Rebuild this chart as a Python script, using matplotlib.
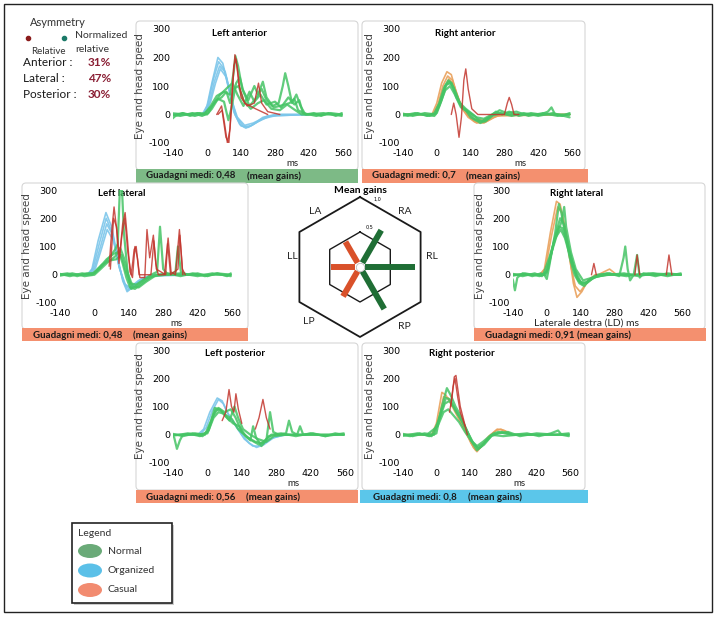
import matplotlib
matplotlib.use("Agg")
import matplotlib.pyplot as plt
from matplotlib.patches import Rectangle, FancyBboxPatch, Ellipse
import numpy as np

plt.rcParams["font.family"] = ["DejaVu Sans"]
plt.rcParams["axes.unicode_minus"] = False
TXT = ["Lato", "DejaVu Sans"]

# ---------------- data ----------------
x_ticks = [-140, 0, 140, 280, 420, 560]
y_ticks = [-100, 0, 100, 200, 300]

# traces as (ms, speed) keypoints
LA_blue = [
    [(-150, 0), (-20, 0), (0, 30), (20, 110), (45, 200), (65, 180), (90, 90), (110, 10), (135, -35), (160, -48), (190, -35), (230, -10), (280, 0), (420, 0)],
    [(-150, 0), (-15, 0), (5, 40), (25, 120), (48, 185), (70, 160), (95, 70), (115, 0), (140, -40), (170, -45), (210, -25), (260, -5), (420, 0)],
    [(-150, 0), (-10, 0), (10, 40), (30, 115), (52, 170), (75, 150), (100, 60), (120, -5), (150, -42), (180, -40), (230, -15), (300, 0), (420, 0)],
    [(-150, 0), (-10, 0), (15, 45), (35, 110), (55, 160), (80, 130), (105, 40), (125, -10), (155, -38), (190, -30), (250, -5), (420, 0)],
]
LA_red = [
    [(40, 0), (60, 30), (72, -30), (84, -100), (95, -50), (105, 90), (115, 210), (125, 160), (140, 60), (165, 30), (195, 40), (212, 110), (225, 40), (250, 10), (300, 0)],
    [(45, 0), (62, 15), (78, -80), (90, -100), (100, 20), (110, 170), (120, 195), (132, 100), (155, 40), (200, 20), (250, 0)],
]
LA_green = [
    [(-150, -20), (-130, -5), (-100, 5), (-70, -5), (-40, 5), (-10, 0), (15, 30), (40, 65), (70, 80), (95, 70), (110, 150), (117, 205), (128, 170), (145, 90), (170, 50), (195, 100), (210, 70), (230, 115), (245, 60), (270, 30), (295, 40), (312, 100), (322, 145), (335, 100), (350, 40), (368, 70), (385, 30), (405, 0), (440, 5), (470, -5), (500, 5), (530, -5), (555, 5)],
    [(-150, 0), (-110, -5), (-60, 5), (-20, -5), (5, 5), (25, 35), (55, 70), (85, 95), (105, 110), (125, 70), (150, 30), (175, 80), (195, 45), (220, 70), (245, 35), (280, 45), (305, 25), (335, 60), (360, 35), (380, 50), (395, 5), (450, -5), (510, 5), (555, 0)],
    [(-150, 5), (-90, 0), (-30, 5), (0, 0), (20, 20), (45, 55), (70, 45), (88, -20), (100, 20), (120, 110), (135, 130), (150, 80), (175, 30), (200, 55), (225, 90), (245, 50), (275, 25), (300, 30), (340, 40), (360, 55), (375, 15), (410, 0), (480, 5), (555, -5)],
    [(-150, -5), (-100, 5), (-50, -5), (-10, 5), (15, 25), (40, 50), (60, 60), (80, 80), (95, 40), (110, 90), (130, 100), (150, 50), (180, 20), (210, 40), (235, 50), (265, 20), (300, 15), (330, 35), (355, 20), (390, 0), (460, 0), (555, 0)],
]

RA_orange = [
    [(-150, 0), (-20, 0), (0, 40), (20, 110), (42, 150), (60, 140), (80, 80), (100, 30), (125, 0), (155, -25), (195, -30), (235, -10), (275, 0), (550, 0)],
    [(-150, 0), (-15, 0), (5, 35), (25, 100), (45, 135), (65, 120), (85, 60), (105, 20), (130, -10), (165, -30), (205, -25), (250, -5), (550, 0)],
    [(-150, 0), (-10, 0), (10, 30), (30, 90), (50, 125), (70, 105), (95, 45), (120, 10), (150, -15), (190, -20), (240, 0), (550, 0)],
]
RA_red = [
    [(60, 0), (70, 40), (80, 0), (92, -80), (102, -10), (112, 120), (120, 160), (130, 90), (145, 20), (170, 0), (280, 0), (292, 40), (300, 60), (310, 35), (320, 0), (340, 0)],
]
RA_green = [
    [(-150, 0), (-120, -5), (-80, 5), (-40, -5), (-10, 5), (10, 40), (30, 95), (48, 120), (62, 110), (80, 60), (100, 25), (120, 15), (140, -10), (160, -20), (185, -25), (215, -10), (245, 10), (270, 0), (300, 10), (340, -5), (390, 5), (430, 0), (460, 10), (475, 25), (490, 0), (520, -5), (550, 5)],
    [(-150, 5), (-100, -5), (-50, 5), (-5, 0), (15, 45), (35, 100), (52, 115), (70, 95), (90, 50), (110, 20), (135, 5), (155, -15), (180, -30), (205, -20), (235, 0), (260, 15), (290, 5), (330, 10), (380, -5), (440, 5), (500, -5), (550, 0)],
    [(-150, -5), (-90, 5), (-30, -5), (0, 5), (20, 50), (40, 105), (58, 110), (76, 80), (96, 40), (120, 20), (150, 0), (175, -20), (200, -25), (230, -5), (265, 5), (310, -5), (360, 5), (420, -5), (480, 5), (550, -10)],
    [(-150, 0), (-60, 0), (-10, -5), (10, 30), (35, 85), (55, 100), (75, 70), (100, 30), (130, 10), (165, -10), (195, -15), (240, 5), (300, 0), (400, 0), (550, 0)],
]

LL_blue = [
    [(-150, 0), (-30, 0), (-10, 20), (15, 120), (47, 220), (70, 170), (95, 60), (115, -20), (133, -60), (155, -45), (190, -15), (240, 0), (420, 0)],
    [(-150, 0), (-25, 0), (-5, 25), (20, 110), (48, 200), (72, 150), (98, 40), (118, -25), (135, -55), (160, -40), (200, -10), (260, 0), (420, 0)],
    [(-150, 0), (-20, 0), (0, 25), (25, 100), (50, 180), (75, 140), (100, 30), (122, -30), (140, -50), (170, -30), (220, -5), (420, 0)],
    [(-150, 0), (-15, 0), (5, 25), (30, 95), (52, 160), (78, 120), (103, 20), (126, -35), (145, -45), (180, -20), (240, 0), (420, 0)],
]
LL_red = [
    [(60, 30), (70, 150), (80, 240), (92, 150), (102, 60), (115, 180), (125, 220), (135, 120), (145, 10), (155, -10), (165, 100), (175, 60), (185, -10), (205, -10), (214, 160), (225, 60), (240, 140), (250, 40), (260, 0), (285, 0), (300, 130), (312, 10), (330, 0), (346, 160), (358, 20), (370, 0)],
    [(65, 20), (78, 200), (90, 170), (100, 40), (112, 140), (124, 200), (136, 80), (150, 0), (162, 90), (170, 100), (182, 0), (230, 0), (242, 120), (252, 20), (290, 0), (298, 110), (310, 0), (340, 20), (348, 140), (360, 0)],
]
LL_green = [
    [(-150, 0), (-110, 5), (-70, -5), (-30, 5), (0, 5), (30, 30), (60, 60), (85, 90), (95, 110), (104, 310), (112, 310), (120, 150), (135, 10), (150, -50), (170, -40), (200, -20), (230, 0), (255, 10), (267, 170), (280, 20), (300, 0), (330, 10), (340, 100), (352, 10), (380, 0), (420, 5), (460, -5), (500, 5), (540, -5), (555, 5)],
    [(-150, 5), (-100, -5), (-50, 5), (-10, 0), (20, 25), (50, 55), (80, 75), (100, 80), (115, 40), (130, -10), (145, -45), (165, -50), (195, -30), (225, -10), (260, 0), (300, 5), (350, -5), (400, 5), (450, -5), (500, 5), (555, 0)],
    [(-150, -5), (-90, 5), (-40, -5), (0, 0), (25, 20), (55, 45), (85, 65), (105, 95), (120, 60), (138, 0), (155, -40), (180, -45), (210, -25), (245, -5), (290, 0), (350, 5), (420, -5), (480, 5), (555, -5)],
    [(-150, 0), (-60, 0), (-5, 5), (30, 35), (60, 50), (90, 55), (110, 70), (125, 20), (145, -30), (170, -35), (205, -15), (250, 0), (400, 0), (555, 0)],
]

RL_orange = [
    [(-150, 0), (-30, 0), (-10, 20), (15, 150), (40, 260), (55, 250), (75, 170), (95, 60), (110, -30), (125, -80), (145, -60), (170, -20), (200, 0), (250, 0), (300, 0)],
    [(-150, 0), (-25, 0), (-5, 25), (20, 140), (45, 240), (62, 220), (82, 130), (100, 30), (118, -40), (138, -60), (165, -30), (200, -5), (260, 20), (290, 0)],
]
RL_red = [
    [(185, 0), (195, 40), (205, 0)],
    [(365, 0), (374, 70), (385, 0)],
    [(495, 0), (506, 70), (518, 0)],
]
RL_green = [
    [(-150, 0), (-140, -20), (-132, -55), (-122, -10), (-100, 5), (-60, -5), (-25, 5), (-10, 0), (0, -15), (10, 30), (35, 150), (50, 250), (60, 220), (75, 150), (95, 60), (115, 0), (135, -30), (155, -40), (180, -15), (210, 0), (260, 5), (300, -5), (318, 60), (325, 100), (335, 20), (345, -20), (360, 0), (374, 70), (385, -10), (400, 5), (450, -5), (500, 5), (555, 0)],
    [(-150, 5), (-100, -5), (-50, 5), (-20, -5), (5, 20), (30, 120), (55, 200), (70, 180), (90, 100), (110, 30), (130, -20), (150, -35), (175, -20), (210, -5), (260, 0), (320, 5), (380, -5), (440, 5), (500, -5), (555, 5)],
    [(-150, -5), (-90, 5), (-30, -5), (0, 10), (25, 100), (50, 170), (65, 165), (85, 110), (105, 40), (125, -10), (145, -30), (170, -25), (200, -5), (250, 5), (330, -5), (420, 5), (555, 0)],
    [(-150, 0), (-60, 0), (-15, 0), (10, 60), (35, 130), (58, 160), (75, 130), (95, 70), (120, 10), (140, -25), (165, -30), (195, -10), (240, 0), (555, 0)],
    [(-150, 0), (-5, 0), (20, 80), (45, 150), (62, 190), (72, 240), (80, 170), (100, 80), (120, 20), (150, -20), (190, -10), (250, 0), (555, 0)],
]

LP_blue = [
    [(-150, 0), (-40, 0), (-15, 20), (10, 80), (40, 130), (60, 120), (80, 80), (110, 40), (140, 0), (170, -30), (200, -45), (230, -35), (270, -10), (320, 0), (400, 0)],
    [(-150, 0), (-30, 0), (-5, 25), (20, 85), (45, 125), (65, 110), (90, 65), (120, 25), (150, -15), (185, -40), (215, -40), (255, -15), (310, 0), (400, 0)],
]
LP_red = [
    [(60, 50), (75, 80), (88, 160), (98, 100), (108, 80), (116, 145), (126, 90), (140, 40)],
    [(195, 20), (210, 60), (226, 125), (240, 60), (255, 20)],
]
LP_green = [
    [(-150, 0), (-135, -10), (-124, -50), (-112, -20), (-100, 0), (-60, 5), (-20, -5), (0, 10), (20, 60), (35, 90), (55, 85), (80, 60), (105, 40), (130, 30), (155, -5), (175, -20), (186, 30), (198, -10), (220, -40), (240, -20), (255, 80), (268, 10), (290, 0), (320, 5), (332, 50), (345, 10), (365, 0), (377, 30), (390, 0), (430, 5), (480, -5), (520, 5), (555, 0)],
    [(-150, 5), (-100, -5), (-50, 5), (-10, 0), (15, 50), (30, 95), (50, 90), (75, 70), (100, 55), (125, 20), (150, 0), (180, -20), (210, -35), (235, -20), (260, 0), (300, 5), (360, -5), (420, 5), (480, -5), (555, 5)],
    [(-150, -5), (-80, 5), (-30, -5), (5, 15), (25, 70), (45, 95), (70, 80), (95, 90), (115, 60), (140, 10), (165, -10), (195, -25), (225, -30), (250, -5), (280, 0), (350, 0), (555, 0)],
    [(-150, 0), (-50, 0), (0, 5), (25, 60), (45, 80), (65, 75), (90, 50), (110, 100), (125, 60), (145, 20), (175, 0), (205, -15), (240, -25), (270, -5), (320, 0), (555, 0)],
]

RP_orange = [
    [(-150, 0), (-20, 0), (0, 40), (23, 150), (40, 140), (60, 110), (85, 70), (110, 30), (135, -10), (155, -45), (170, -60), (190, -40), (220, -5), (250, 15), (270, 20), (295, 10), (320, 0), (400, 0)],
    [(-150, 0), (-15, 0), (5, 40), (30, 135), (50, 130), (70, 100), (95, 60), (120, 15), (145, -30), (165, -55), (185, -45), (215, -10), (255, 20), (285, 15), (320, 0), (400, 0)],
]
RP_red = [
    [(55, 80), (65, 130), (75, 205), (82, 210), (90, 160), (100, 100), (115, 50), (130, 0)],
    [(60, 100), (70, 170), (78, 200), (88, 140), (100, 80), (120, 30)],
]
RP_green = [
    [(-150, 0), (-110, -5), (-70, 5), (-30, -5), (0, 5), (20, 90), (44, 165), (60, 140), (80, 100), (100, 70), (120, 30), (145, -20), (170, -55), (190, -40), (215, -15), (240, 5), (260, 10), (285, 5), (320, 0), (380, 5), (430, -5), (480, 5), (510, 15), (525, 0), (555, -5)],
    [(-150, 5), (-100, -5), (-50, 5), (-10, 0), (15, 70), (40, 130), (58, 125), (80, 85), (105, 50), (130, 10), (155, -30), (175, -50), (200, -35), (230, -5), (260, 5), (300, 10), (350, -5), (420, 5), (500, 0), (555, 5)],
    [(-150, -5), (-80, 5), (-20, -5), (10, 50), (35, 110), (55, 120), (75, 95), (100, 60), (125, 20), (150, -25), (172, -45), (200, -30), (235, 0), (275, 10), (320, 0), (400, 0), (555, 0)],
    [(-150, 0), (-40, 0), (5, 30), (30, 80), (50, 90), (70, 70), (95, 45), (120, 10), (145, -20), (170, -40), (195, -25), (230, 0), (280, -5), (340, 0), (555, 0)],
]

# radar (mean gains)
radar_labels = ["LA", "RA", "LL", "RL", "LP", "RP"]
radar_gains = [0.48, 0.7, 0.48, 0.91, 0.56, 0.8]
radar_angles = [120, 60, 180, 0, -120, -60]

asym_names = ["Anterior :", "Lateral :", "Posterior :"]
asym_values = ["31%", "47%", "30%"]

legend_names = ["Normal", "Organized", "Casual"]

# ---------------- colours ----------------
C_GREEN = "#45c465"
C_BLUE = "#7cc6ea"
C_ORANGE = "#e9a15c"
C_RED = "#c2352d"
BAR_GREEN = "#7dba86"
BAR_ORANGE = "#f4906f"
BAR_BLUE = "#5bc6ea"

W, H = 717, 617
fig = plt.figure(figsize=(W / 100, H / 100), dpi=100)
bg = fig.add_axes([0, 0, 1, 1])
bg.set_xlim(0, W)
bg.set_ylim(H, 0)
bg.axis("off")

bg.add_patch(Rectangle((4, 4), 708, 608, fill=False, ec="#222222", lw=1))


def px_axes(x0, x1, ytop, ybot):
    return fig.add_axes([x0 / W, 1 - ybot / H, (x1 - x0) / W, (ybot - ytop) / H])


def draw_line(ax, pts, color, lw, alpha):
    t = [p[0] for p in pts]
    v = [p[1] for p in pts]
    ax.plot(t, v, color=color, lw=lw, alpha=alpha, solid_capstyle="round")


# panel layout: axes px, box, bar colour, bar rect, gain, title pos, ms label
panels = [
    dict(ax=(173, 343, 29, 143), box=(136, 21, 222, 149), bar=BAR_GREEN, barr=(136, 169, 222, 14),
         gain="0,48", txt=(146, 247, 176), title=("Left anterior", 240, 33), ms=("ms", 292, 164),
         colored=LA_blue, ccol=C_BLUE, green=LA_green, red=LA_red),
    dict(ax=(403, 572, 29, 143), box=(362, 21, 223, 149), bar=BAR_ORANGE, barr=(362, 169, 226, 14),
         gain="0,7", txt=(372, 466, 176), title=("Right anterior", 465, 33), ms=("ms", 520, 164),
         colored=RA_orange, ccol=C_ORANGE, green=RA_green, red=RA_red),
    dict(ax=(60, 232, 190, 303), box=(22, 183, 226, 146), bar=BAR_ORANGE, barr=(22, 328, 226, 13),
         gain="0,48", txt=(33, 133, 335), title=("Left lateral", 122, 193), ms=("ms", 176, 323),
         colored=LL_blue, ccol=C_BLUE, green=LL_green, red=LL_red),
    dict(ax=(513, 682, 190, 303), box=(474, 183, 231, 146), bar=BAR_ORANGE, barr=(474, 328, 232, 13),
         gain="0,91", txt=(485, 577, 335), title=("Right lateral", 577, 193),
         ms=("Laterale destra (LD) ms", 587, 323),
         colored=RL_orange, ccol=C_ORANGE, green=RL_green, red=RL_red),
    dict(ax=(173, 345, 350, 463), box=(136, 343, 222, 147), bar=BAR_ORANGE, barr=(136, 490, 222, 13),
         gain="0,56", txt=(146, 246, 497), title=("Left posterior", 235, 353), ms=("ms", 293, 483),
         colored=LP_blue, ccol=C_BLUE, green=LP_green, red=LP_red),
    dict(ax=(403, 570, 350, 463), box=(362, 343, 223, 147), bar=BAR_BLUE, barr=(360, 490, 228, 13),
         gain="0,8", txt=(373, 468, 497), title=("Right posterior", 462, 353), ms=("ms", 519, 483),
         colored=RP_orange, ccol=C_ORANGE, green=RP_green, red=RP_red),
]

for p in panels:
    bx, by, bw, bh = p["box"]
    bg.add_patch(FancyBboxPatch((bx, by), bw, bh, boxstyle="round,pad=0,rounding_size=4",
                                fc="white", ec="#d6d6d6", lw=0.8))
    rx, ry, rw, rh = p["barr"]
    bg.add_patch(Rectangle((rx, ry), rw, rh, fc=p["bar"], ec="none"))
    x1, x2, ty = p["txt"]
    bg.text(x1, ty, "Guadagni medi: " + p["gain"], fontsize=7, fontweight="bold",
            family=TXT, color="#1a1a1a", va="center", ha="left")
    bg.text(x2, ty, "(mean gains)", fontsize=7, fontweight="bold", family=TXT,
            color="#1a1a1a", va="center", ha="left")
    tt, tx, tyy = p["title"]
    bg.text(tx, tyy, tt, fontsize=7, fontweight="bold", family=TXT, ha="center",
            va="center", zorder=5)
    mt, mx, my = p["ms"]
    bg.text(mx, my, mt, fontsize=7.5 if len(mt) > 2 else 7, family=TXT, ha="center",
            va="center", color="#222222")

    x0, x1_, yt, yb = p["ax"]
    ax = px_axes(x0, x1_, yt, yb)
    ax.set_facecolor("none")
    ax.set_xlim(-140, 560)
    ax.set_ylim(-100, 300)
    for s in ax.spines.values():
        s.set_visible(False)
    ax.set_xticks(x_ticks)
    ax.set_yticks(y_ticks)
    ax.tick_params(length=0, labelsize=6.8, pad=2)
    ax.tick_params(axis="x", pad=4)
    ax.set_ylabel("Eye and head speed", fontsize=7.5, color="#444444", labelpad=3)

    for tr in p["colored"]:
        draw_line(ax, tr, p["ccol"], 1.2, 0.9)
    for tr in p["green"]:
        draw_line(ax, tr, C_GREEN, 1.6, 0.85)
    for tr in p["red"]:
        draw_line(ax, tr, C_RED, 1.0, 0.85)

# ---------------- radar ----------------
cx, cy, half = 360, 267, 85
unit = 60.6
rax = px_axes(cx - half, cx + half, cy - half, cy + half)
rax.set_facecolor("none")
rax.set_xlim(-half / unit, half / unit)
rax.set_ylim(-half / unit, half / unit)
rax.axis("off")

hex_ang = np.deg2rad(np.arange(90, 90 + 361, 60))
for apo in [1.0, 0.5]:
    r = apo / np.cos(np.deg2rad(30))
    rax.plot(r * np.cos(hex_ang), r * np.sin(hex_ang), color="#1a1a1a", lw=1.3 if apo == 1 else 1.0)

for lab, g, a in zip(radar_labels, radar_gains, radar_angles):
    col = "#d9512a" if lab.startswith("L") else "#1f6e35"
    ang = np.deg2rad(a)
    rax.plot([0.08 * np.cos(ang), g * np.cos(ang)], [0.08 * np.sin(ang), g * np.sin(ang)],
             color=col, lw=4.3, solid_capstyle="butt")
rax.plot([0], [0], marker="o", ms=6, mfc="white", mec="#bbbbbb", mew=0.6)

label_pos = {"LA": (-0.74, 0.92), "RA": (0.74, 0.92), "LL": (-1.12, 0.17),
             "RL": (1.19, 0.17), "LP": (-0.84, -0.9), "RP": (0.74, -0.98)}
for lab in radar_labels:
    lx, ly = label_pos[lab]
    rax.text(lx, ly, lab, fontsize=7.5, family=TXT, ha="center", va="center", color="#222222")
rax.text(0, 1.27, "Mean gains", fontsize=7.5, fontweight="bold", family=TXT, ha="center", va="center")
rax.text(0.28, 1.12, "1,0", fontsize=3.5, ha="center", va="center")
rax.text(0.15, 0.66, "0,5", fontsize=3.5, ha="center", va="center")

# ---------------- asymmetry ----------------
bg.text(30, 22, "Asymmetry", fontsize=8, family=TXT, color="#333333", va="center")
bg.plot([28], [38], marker="o", ms=3, color="#8b1c1c")
bg.plot([64], [38], marker="o", ms=3, color="#1b7a68")
bg.text(75, 36, "Normalized", fontsize=7.5, family=TXT, color="#333333", va="center")
bg.text(75, 50, "relative", fontsize=7.5, family=TXT, color="#333333", va="center")
bg.text(31, 52, "Relative", fontsize=7, family=TXT, color="#333333", va="center")
for i, (n, v) in enumerate(zip(asym_names, asym_values)):
    yy = 63 + 16 * i
    bg.text(23, yy, n, fontsize=8.5, family=TXT, color="#1a1a1a", va="center")
    bg.text(88, yy, v, fontsize=8.5, fontweight="bold", family=TXT, color="#8b2035", va="center")

# ---------------- legend ----------------
bg.add_patch(Rectangle((74, 525), 100, 80, fc="#cccccc", ec="none"))
bg.add_patch(Rectangle((72, 523), 100, 80, fc="white", ec="#222222", lw=1.2))
bg.text(78, 534, "Legend", fontsize=7.5, family=TXT, color="#333333", va="center")
leg_cols = ["#6aaa78", "#5bc0e8", "#f28b70"]
for i, (n, c) in enumerate(zip(legend_names, leg_cols)):
    yy = 551 + 19.5 * i
    bg.add_patch(Ellipse((90, yy), 24, 14, fc=c, ec="none"))
    bg.text(108, yy, n, fontsize=7.5, family=TXT, color="#333333", va="center")

fig.savefig("out.png", dpi=100)
